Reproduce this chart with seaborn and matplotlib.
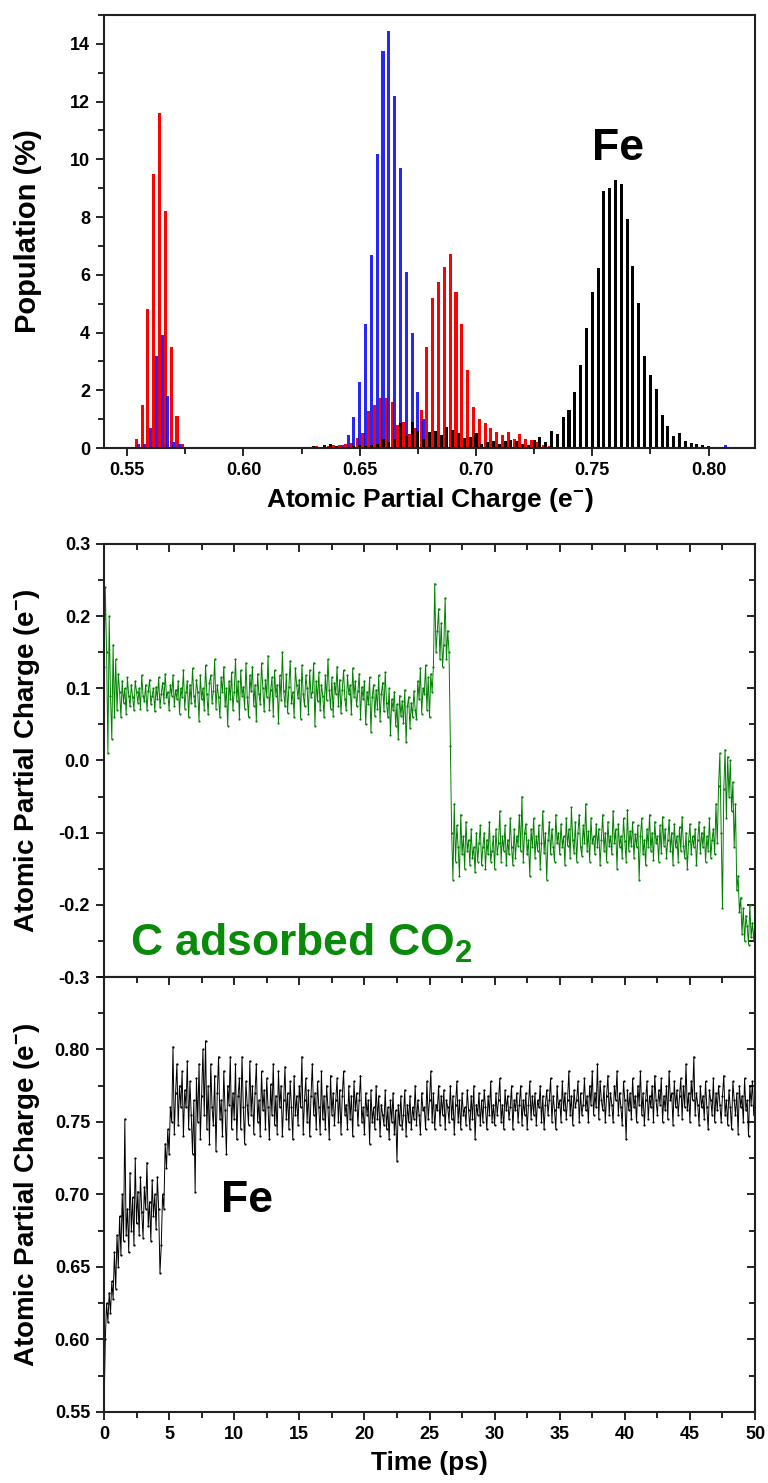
import numpy as np
import pandas as pd
import matplotlib.pyplot as plt
import seaborn as sns
from matplotlib.ticker import MultipleLocator

sns.set_theme(style="ticks")
plt.rcParams["font.family"] = ["Liberation Sans", "DejaVu Sans"]
plt.rcParams["font.weight"] = "bold"
plt.rcParams["axes.labelweight"] = "bold"
plt.rcParams["mathtext.fontset"] = "custom"
plt.rcParams["mathtext.rm"] = "Liberation Sans:bold"
plt.rcParams["mathtext.default"] = "rm"
for key in ("text.color", "axes.labelcolor", "xtick.color", "ytick.color", "axes.edgecolor"):
    plt.rcParams[key] = "black"

# ---- histogram of partial charges (bin centre, population %) ----
red_charge = [0.5525, 0.555, 0.5575, 0.56, 0.5625, 0.565, 0.5675, 0.57, 0.5725, 0.575, 0.5775,
              0.5975, 0.60, 0.6025, 0.6125, 0.62, 0.6275, 0.6325, 0.6375, 0.64, 0.6425, 0.645,
              0.6475, 0.65, 0.6525, 0.655, 0.6575, 0.66, 0.6625, 0.665, 0.6675, 0.67, 0.6725,
              0.675, 0.6775, 0.68, 0.6825, 0.685, 0.6875, 0.69, 0.6925, 0.695, 0.6975, 0.70,
              0.7025, 0.705, 0.7075, 0.71, 0.7125, 0.715, 0.7175, 0.72, 0.7225, 0.725, 0.7275,
              0.73, 0.7325, 0.735, 0.7375, 0.74, 0.745]
red_pop = [0.03, 0.3, 1.5, 4.8, 9.5, 11.6, 8.2, 3.5, 1.1, 0.15, 0.02,
           0.04, 0.05, 0.04, 0.02, 0.03, 0.04, 0.06, 0.08, 0.1, 0.12, 0.15,
           0.16, 0.33, 0.53, 1.29, 1.5, 1.72, 1.72, 1.6, 0.8, 0.9, 0.5,
           0.68, 1.3, 3.5, 5.2, 5.74, 6.28, 6.71, 5.39, 4.28, 2.71, 1.43,
           1.02, 0.85, 0.68, 0.56, 0.45, 0.56, 0.3, 0.5, 0.32, 0.28, 0.2,
           0.12, 0.06, 0.05, 0.04, 0.03, 0.02]

blue_charge = [0.5525, 0.555, 0.5575, 0.56, 0.5625, 0.565, 0.5675, 0.57, 0.5725, 0.575,
               0.6375, 0.64, 0.6425, 0.645, 0.6475, 0.65, 0.6525, 0.655, 0.6575, 0.66, 0.6625,
               0.665, 0.6675, 0.67, 0.6725, 0.675, 0.6775, 0.68, 0.6825, 0.685, 0.6875,
               0.7475, 0.76, 0.78, 0.79, 0.795, 0.8075]
blue_pop = [0.02, 0.15, 0.15, 0.7, 3.2, 3.9, 1.8, 0.2, 0.15, 0.02,
            0.05, 0.08, 0.1, 0.45, 1.08, 2.3, 4.3, 6.7, 10.2, 13.75, 14.45,
            12.2, 9.7, 6.1, 4.0, 1.95, 1.0, 0.5, 0.15, 0.05, 0.03,
            0.02, 0.02, 0.03, 0.03, 0.05, 0.1]

black_charge = [0.58, 0.5875, 0.595, 0.6025, 0.605, 0.6125, 0.6175, 0.6225, 0.625, 0.63,
                0.635, 0.6375, 0.64, 0.645, 0.6475, 0.65, 0.6525, 0.655, 0.6575, 0.66,
                0.6625, 0.665, 0.6675, 0.67, 0.6725, 0.675, 0.6775, 0.68, 0.6825, 0.685,
                0.6875, 0.69, 0.6925, 0.695, 0.6975, 0.70, 0.7025, 0.705, 0.7075, 0.71,
                0.7125, 0.715, 0.7175, 0.72, 0.7225, 0.725, 0.7275, 0.73, 0.7325, 0.735,
                0.7375, 0.74, 0.7425, 0.745, 0.7475, 0.75, 0.7525, 0.755, 0.7575, 0.76,
                0.7625, 0.765, 0.7675, 0.77, 0.7725, 0.775, 0.7775, 0.78, 0.7825, 0.785,
                0.7875, 0.79, 0.7925, 0.795, 0.7975, 0.80, 0.8025]
black_pop = [0.02, 0.02, 0.02, 0.03, 0.04, 0.03, 0.04, 0.05, 0.04, 0.06,
             0.12, 0.14, 0.06, 0.05, 0.06, 0.1, 0.08, 0.1, 0.15, 0.3,
             0.2, 0.3, 0.85, 0.4, 0.9, 0.6, 0.3, 0.55, 0.59, 0.45,
             0.74, 0.62, 0.51, 0.33, 0.39, 0.51, 0.15, 0.22, 0.25, 0.13,
             0.23, 0.28, 0.25, 0.15, 0.1, 0.28, 0.37, 0.2, 0.6, 0.48,
             1.08, 1.31, 1.94, 2.86, 4.15, 5.41, 6.25, 8.92, 9.01, 9.3,
             9.15, 7.94, 6.29, 5.01, 3.17, 2.54, 2.03, 1.14, 0.77, 0.43,
             0.53, 0.24, 0.17, 0.14, 0.1, 0.08, 0.03]

# ---- charge vs time, one value every 0.1 ps from 0 to 50 ps, in milli-e ----
time_step = 0.1
c_charge_me = [
    130, 240, 150, 10, 200, 90, 30, 160, 60, 140,
    70, 120, 95, 60, 110, 80, 100, 65, 115, 90,
    75, 105, 88, 70, 110, 95, 80, 100, 72, 118,
    90, 82, 105, 70, 96, 112, 78, 90, 100, 68,
    102, 85, 115, 74, 92, 108, 80, 120, 88, 95,
    70, 105, 90, 118, 76, 98, 85, 110, 65, 100,
    88, 125, 72, 95, 110, 60, 105, 80, 128, 90,
    75, 112, 95, 55, 118, 85, 100, 70, 132, 92,
    64, 108, 118, 80, 96, 140, 72, 105, 88, 60,
    115, 95, 130, 75, 100, 48, 110, 85, 122, 70,
    95, 140, 82, 110, 58, 125, 90, 102, 72, 135,
    88, 60, 118, 96, 130, 76, 105, 55, 120, 92,
    78, 135, 100, 68, 112, 88, 145, 70, 98, 115,
    62, 125, 90, 105, 52, 118, 84, 150, 96, 75,
    120, 66, 102, 138, 80, 95, 60, 128, 104, 86,
    112, 58, 132, 92, 75, 118, 100, 65, 125, 88,
    95, 135, 48, 110, 82, 122, 70, 105, 90, 60,
    118, 84, 140, 98, 72, 115, 62, 108, 92, 130,
    76, 112, 66, 98, 125, 85, 70, 118, 92, 104,
    64, 128, 88, 110, 75, 96, 120, 58, 102, 85,
    110, 50, 95, 78, 115, 40, 88, 105, 62, 98,
    72, 118, 55, 92, 108, 68, 122, 80, 60, 100,
    35, 85, 70, 95, 48, 78, 30, 90, 62, 82,
    52, 98, 25, 75, 88, 45, 80, 60, 96, 70,
    58, 110, 85, 128, 65, 100, 92, 132, 70, 115,
    60, 120, 95, 130, 245, 150, 180, 210, 140, 190,
    130, 160, 225, 140, 180, 150, 20, -100, -165, -60,
    -140, -90, -120, -160, -75, -130, -105, -150, -85, -125,
    -110, -145, -95, -135, -120, -155, -100, -140, -115, -90,
    -145, -120, -100, -150, -110, -130, -85, -140, -125, -105,
    -150, -95, -130, -115, -70, -140, -105, -125, -90, -145,
    -110, -130, -80, -120, -145, -95, -135, -105, -118, -75,
    -125, -50, -140, -100, -88, -130, -110, -160, -95, -120,
    -80, -135, -105, -125, -90, -150, -115, -70, -128, -100,
    -165, -110, -85, -130, -95, -120, -140, -75, -115, -100,
    -130, -88, -120, -105, -145, -80, -118, -95, -135, -65,
    -110, -128, -85, -140, -100, -75, -120, -132, -90, -115,
    -60, -125, -98, -140, -80, -115, -105, -130, -88, -120,
    -95, -145, -110, -75, -125, -100, -140, -85, -118, -105,
    -130, -70, -115, -95, -150, -88, -120, -105, -135, -80,
    -112, -140, -68, -125, -98, -118, -85, -135, -102, -120,
    -90, -165, -105, -80, -130, -110, -145, -95, -120, -75,
    -125, -100, -138, -85, -115, -105, -140, -90, -128, -78,
    -118, -95, -135, -110, -82, -125, -100, -145, -88, -120,
    -105, -140, -92, -125, -78, -118, -135, -100, -150, -112,
    -88, -130, -105, -120, -95, -145, -110, -85, -128, -100,
    -120, -92, -140, -105, -125, -80, -135, -110, -95, -130,
    -60, -115, -35, 10, -100, -205, -40, 15, -80, 5,
    -50, 0, -70, -30, -120, -60, -180, -160, -210, -190,
    -240, -205, -250, -215, -230, -255, -200, -245, -225, -250,
    -220]

fe_charge_me = [
    550, 600, 625, 612, 632, 618, 640, 628, 660, 635,
    672, 650, 685, 658, 700, 668, 752, 672, 690, 660,
    715, 675, 698, 665, 725, 680, 702, 672, 712, 688,
    670, 705, 690, 722, 678, 695, 668, 710, 685, 700,
    676, 712, 690, 646, 665, 700, 690, 735, 718, 745,
    728, 760, 750, 802, 742, 770, 790, 748, 775, 760,
    785, 740, 772, 760, 792, 745, 778, 755, 728, 765,
    702, 780, 750, 790, 738, 768, 800, 755, 806, 745,
    775, 735, 790, 760, 748, 782, 730, 770, 795, 752,
    765, 740, 785, 758, 728, 775, 762, 795, 745, 770,
    752, 790, 738, 768, 780, 745, 795, 760, 735, 778,
    762, 748, 792, 755, 775, 742, 770, 790, 750, 765,
    740, 785, 758, 772, 745, 780, 760, 738, 776, 755,
    790, 748, 768, 742, 785, 760, 775, 740, 765, 788,
    752, 770, 745, 778, 760, 738, 782, 755, 768, 748,
    775, 760, 795, 742, 765, 780, 750, 772, 740, 768,
    790, 755, 770, 745, 778, 760, 742, 785, 752, 768,
    745, 775, 760, 738, 782, 755, 770, 748, 765, 780,
    750, 772, 742, 768, 785, 755, 762, 745, 775, 752,
    768, 740, 778, 758, 770, 748, 765, 782, 750, 760,
    742, 770, 755, 765, 735, 772, 750, 760, 745, 775,
    752, 768, 740, 762, 755, 748, 772, 745, 760, 738,
    765, 750, 770, 742, 758, 723, 762, 748, 768, 745,
    755, 772, 740, 762, 750, 768, 745, 760, 752, 775,
    748, 765, 755, 742, 770, 758, 760, 745, 778, 752,
    765, 785, 750, 770, 745, 762, 758, 775, 748, 768,
    755, 772, 745, 765, 760, 750, 775, 752, 768, 742,
    762, 778, 750, 765, 745, 770, 755, 760, 748, 772,
    758, 745, 768, 752, 775, 738, 762, 755, 770, 748,
    765, 750, 772, 760, 745, 768, 755, 778, 750, 762,
    748, 770, 755, 765, 780, 750, 762, 745, 772, 758,
    768, 752, 760, 775, 745, 765, 758, 770, 750, 762,
    775, 748, 765, 755, 770, 745, 762, 778, 752, 768,
    755, 770, 748, 765, 760, 775, 750, 768, 745, 762,
    772, 755, 765, 780, 750, 768, 758, 745, 775, 760,
    765, 750, 778, 758, 770, 752, 765, 785, 755, 768,
    748, 772, 760, 765, 778, 750, 770, 755, 762, 780,
    758, 768, 750, 775, 762, 785, 755, 770, 760, 790,
    752, 778, 765, 758, 775, 750, 768, 782, 755, 770,
    762, 750, 775, 765, 785, 755, 770, 760, 748, 778,
    765, 738, 772, 758, 770, 752, 780, 760, 768, 750,
    775, 762, 785, 755, 770, 748, 765, 778, 752, 768,
    760, 775, 750, 782, 765, 755, 772, 762, 780, 750,
    768, 758, 775, 752, 785, 765, 770, 748, 778, 760,
    772, 755, 768, 780, 752, 775, 760, 790, 758, 770,
    750, 778, 765, 795, 755, 770, 762, 748, 775, 760,
    768, 752, 778, 760, 745, 772, 765, 755, 780, 750,
    770, 758, 775, 762, 750, 768, 782, 755, 765, 748,
    772, 760, 745, 778, 765, 755, 770, 742, 775, 760,
    768, 750, 780, 758, 765, 740, 775, 762, 778, 755,
    765]

traj = pd.DataFrame({
    "time": np.arange(len(c_charge_me)) * time_step,
    "c_charge": np.array(c_charge_me) / 1000.0,
    "fe_charge": np.array(fe_charge_me) / 1000.0,
})

fig = plt.figure(figsize=(7.68, 14.83), dpi=100)
ax_h = fig.add_axes([0.1354, 0.6979, 0.8477, 0.2920])
ax_c = fig.add_axes([0.1354, 0.3412, 0.8477, 0.2920])
ax_f = fig.add_axes([0.1354, 0.0479, 0.8477, 0.2933])

# histogram panel
bar_w = 0.0013
ax_h.bar(np.array(red_charge) - 0.0011, red_pop, width=bar_w, color="#ff0000", linewidth=0)
ax_h.bar(blue_charge, blue_pop, width=bar_w, color="#0000ff", alpha=0.85, linewidth=0)
ax_h.bar(black_charge, black_pop, width=bar_w, color="black", linewidth=0)
ax_h.set_xlim(0.54, 0.82)
ax_h.set_ylim(0, 15)
ax_h.xaxis.set_minor_locator(MultipleLocator(0.025))
ax_h.yaxis.set_major_locator(MultipleLocator(2))
ax_h.yaxis.set_minor_locator(MultipleLocator(1))
ax_h.set_xticks(np.arange(0.55, 0.801, 0.05))
ax_h.set_xticklabels([f"{v:.2f}" for v in np.arange(0.55, 0.801, 0.05)])
ax_h.set_xlabel("Atomic Partial Charge (e$^{-}$)", fontsize=19, labelpad=5)
ax_h.set_ylabel("Population (%)", fontsize=21)
ax_h.yaxis.set_label_coords(-0.095, 0.5)
ax_h.text(0.79, 0.665, "Fe", transform=ax_h.transAxes, fontsize=32,
          fontweight="bold", ha="center", va="baseline")

# time series panels
sns.lineplot(data=traj, x="time", y="c_charge", ax=ax_c, color="#008000", linewidth=0.7,
             marker="o", markersize=1.6, markeredgewidth=0)
sns.lineplot(data=traj, x="time", y="fe_charge", ax=ax_f, color="black", linewidth=0.7,
             marker="o", markersize=1.6, markeredgewidth=0)
ax_c.set_ylim(-0.3, 0.3)
ax_f.set_ylim(0.55, 0.85)
ax_c.set_yticks(np.arange(-0.3, 0.301, 0.1))
ax_c.set_yticklabels([f"{v:.1f}" if abs(v) > 1e-9 else "0.0" for v in np.arange(-0.3, 0.301, 0.1)])
ax_c.yaxis.set_minor_locator(MultipleLocator(0.05))
ax_f.set_yticks(np.arange(0.55, 0.801, 0.05))
ax_f.set_yticklabels([f"{v:.2f}" for v in np.arange(0.55, 0.801, 0.05)])
ax_f.yaxis.set_minor_locator(MultipleLocator(0.025))
for ax, minor_y in ((ax_c, 0.05), (ax_f, 0.025)):
    ax.set_xlim(0, 50)
    ax.xaxis.set_major_locator(MultipleLocator(5))
    ax.xaxis.set_minor_locator(MultipleLocator(2.5))
    ax.set_ylabel("Atomic Partial Charge (e$^{-}$)", fontsize=20)
    ax.yaxis.set_label_coords(-0.095, 0.5)
    top = ax.secondary_xaxis("top")
    top.xaxis.set_major_locator(MultipleLocator(5))
    top.xaxis.set_minor_locator(MultipleLocator(2.5))
    top.tick_params(which="both", direction="in", labeltop=False, width=1.2)
    top.tick_params(which="major", length=6)
    top.tick_params(which="minor", length=4)
    right = ax.secondary_yaxis("right")
    right.yaxis.set_major_locator(MultipleLocator(2 * minor_y))
    right.yaxis.set_minor_locator(MultipleLocator(minor_y))
    right.tick_params(which="both", direction="in", labelright=False, width=1.2)
    right.tick_params(which="major", length=6)
    right.tick_params(which="minor", length=4)
ax_c.set_xlabel("")
ax_c.tick_params(axis="x", labelbottom=False)
ax_f.set_xlabel("Time (ps)", fontsize=19, labelpad=6)
ax_c.text(0.04, 0.05, "C adsorbed CO$_2$", transform=ax_c.transAxes,
          fontsize=32, fontweight="bold", color="#0a8a0a", va="baseline")
ax_f.text(0.18, 0.46, "Fe", transform=ax_f.transAxes, fontsize=32,
          fontweight="bold", va="baseline")

for ax in (ax_h, ax_c, ax_f):
    for sp in ax.spines.values():
        sp.set_visible(True)
        sp.set_linewidth(1.5)
        sp.set_color("#202020")
    ax.tick_params(which="both", direction="out", width=1.2, colors="black",
                   top=False, right=False, labelsize=13, pad=4)
    ax.tick_params(which="major", length=6)
    ax.tick_params(which="minor", length=4)
    for lbl in ax.get_xticklabels() + ax.get_yticklabels():
        lbl.set_fontweight("bold")
    ax.set_facecolor("white")

fig.savefig("out.png", dpi=100, facecolor="white")
